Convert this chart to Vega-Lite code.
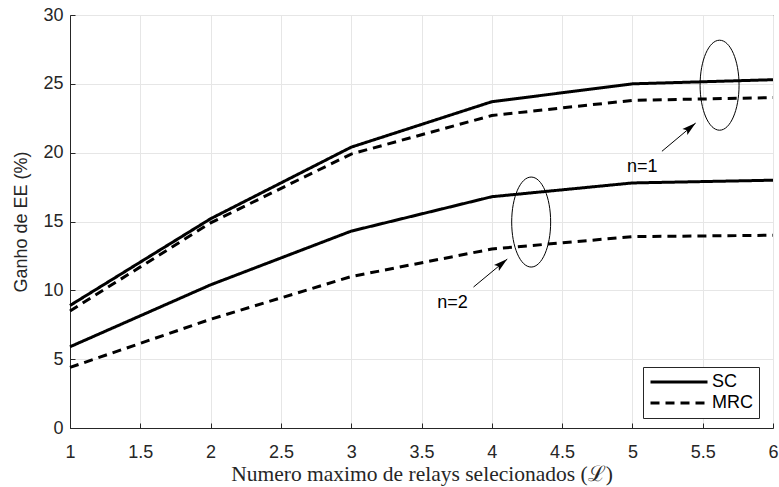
{
  "$schema": "https://vega.github.io/schema/vega-lite/v6.json",
  "width": 703,
  "height": 413,
  "autosize": {"type": "none"},
  "padding": {"left": 70, "top": 15, "right": 6, "bottom": 59},
  "background": "white",
  "datasets": {
    "curves": [
      {"x": 1, "y": 8.9, "type": "SC", "n": "n=1"},
      {"x": 2, "y": 15.2, "type": "SC", "n": "n=1"},
      {"x": 3, "y": 20.4, "type": "SC", "n": "n=1"},
      {"x": 4, "y": 23.7, "type": "SC", "n": "n=1"},
      {"x": 5, "y": 25.0, "type": "SC", "n": "n=1"},
      {"x": 6, "y": 25.3, "type": "SC", "n": "n=1"},
      {"x": 1, "y": 8.5, "type": "MRC", "n": "n=1"},
      {"x": 2, "y": 14.9, "type": "MRC", "n": "n=1"},
      {"x": 3, "y": 19.9, "type": "MRC", "n": "n=1"},
      {"x": 4, "y": 22.7, "type": "MRC", "n": "n=1"},
      {"x": 5, "y": 23.8, "type": "MRC", "n": "n=1"},
      {"x": 6, "y": 24.0, "type": "MRC", "n": "n=1"},
      {"x": 1, "y": 5.9, "type": "SC", "n": "n=2"},
      {"x": 2, "y": 10.4, "type": "SC", "n": "n=2"},
      {"x": 3, "y": 14.3, "type": "SC", "n": "n=2"},
      {"x": 4, "y": 16.8, "type": "SC", "n": "n=2"},
      {"x": 5, "y": 17.8, "type": "SC", "n": "n=2"},
      {"x": 6, "y": 18.0, "type": "SC", "n": "n=2"},
      {"x": 1, "y": 4.4, "type": "MRC", "n": "n=2"},
      {"x": 2, "y": 7.9, "type": "MRC", "n": "n=2"},
      {"x": 3, "y": 11.0, "type": "MRC", "n": "n=2"},
      {"x": 4, "y": 13.0, "type": "MRC", "n": "n=2"},
      {"x": 5, "y": 13.9, "type": "MRC", "n": "n=2"},
      {"x": 6, "y": 14.0, "type": "MRC", "n": "n=2"}
    ],
    "ellipses": [
      {"x": 5.62, "y": 24.9},
      {"x": 4.28, "y": 14.96}
    ],
    "arrows": [
      {"x": 5.21, "y": 20.1, "x2": 5.45, "y2": 22.15, "label": "n=1", "lx": 5.07, "ly": 18.95},
      {"x": 3.87, "y": 10.24, "x2": 4.11, "y2": 12.27, "label": "n=2", "lx": 3.72, "ly": 9.08}
    ]
  },
  "config": {
    "view": {"stroke": "#262626", "strokeWidth": 1},
    "font": "Liberation Sans",
    "axis": {
      "domainColor": "#262626",
      "tickColor": "#262626",
      "gridColor": "#e6e6e6",
      "gridWidth": 1,
      "labelColor": "#262626",
      "labelFontSize": 18,
      "labelFont": "Liberation Sans",
      "titleColor": "#262626",
      "titleFontWeight": "normal"
    }
  },
  "layer": [
    {
      "data": {"name": "curves"},
      "mark": {"type": "line", "strokeWidth": 3, "color": "black", "strokeCap": "butt"},
      "encoding": {
        "x": {
          "field": "x", "type": "quantitative",
          "scale": {"domain": [1, 6], "nice": false, "zero": false},
          "axis": {
            "values": [1, 1.5, 2, 2.5, 3, 3.5, 4, 4.5, 5, 5.5, 6],
            "format": "~g",
            "tickSize": -5,
            "labelPadding": 20,
            "labelFlush": false,
            "title": "Numero maximo de relays selecionados (ℒ)",
            "titleFont": "Liberation Serif",
            "titleFontSize": 21.5,
            "titlePadding": 2
          }
        },
        "y": {
          "field": "y", "type": "quantitative",
          "scale": {"domain": [0, 30], "nice": false},
          "axis": {
            "values": [0, 5, 10, 15, 20, 25, 30],
            "tickSize": -5,
            "labelPadding": 12,
            "title": "Ganho de EE (%)",
            "titleFont": "Liberation Sans",
            "titleFontSize": 18,
            "titlePadding": 12
          }
        },
        "strokeDash": {
          "field": "type", "type": "nominal",
          "scale": {"domain": ["SC", "MRC"], "range": [[1, 0], [9, 6]]},
          "legend": {
            "title": null,
            "orient": "none",
            "legendX": 573,
            "legendY": 352,
            "direction": "vertical",
            "symbolType": "M -1,0 L 6.6,0",
            "symbolSize": 225,
            "symbolStrokeWidth": 3,
            "symbolStrokeColor": "black",
            "labelFontSize": 18,
            "labelFont": "Liberation Sans",
            "labelColor": "black",
            "labelExpr": "datum.label + '\u00a0\u00a0\u00a0'",
            "rowPadding": 3,
            "padding": 6,
            "strokeColor": "#262626",
            "fillColor": "white",
            "labelOffset": 45
          }
        },
        "detail": {"field": "n"}
      }
    },
    {
      "data": {"name": "ellipses"},
      "mark": {
        "type": "point",
        "shape": "M 0.433,0 C 0.433,0.5523 0.239,1 0,1 C -0.239,1 -0.433,0.5523 -0.433,0 C -0.433,-0.5523 -0.239,-1 0,-1 C 0.239,-1 0.433,-0.5523 0.433,0 Z",
        "size": 8100,
        "filled": false,
        "stroke": "black",
        "strokeWidth": 1,
        "opacity": 1
      },
      "encoding": {
        "x": {"field": "x", "type": "quantitative"},
        "y": {"field": "y", "type": "quantitative"}
      }
    },
    {
      "data": {"name": "arrows"},
      "mark": {"type": "rule", "color": "black", "strokeWidth": 1},
      "encoding": {
        "x": {"field": "x", "type": "quantitative"},
        "y": {"field": "y", "type": "quantitative"},
        "x2": {"field": "x2"},
        "y2": {"field": "y2"}
      }
    },
    {
      "data": {"name": "arrows"},
      "mark": {
        "type": "point",
        "shape": "M 0,0 L 0.55,2 L 0,1.6 L -0.55,2 Z",
        "size": 196,
        "filled": true,
        "color": "black",
        "opacity": 1,
        "angle": 50.5
      },
      "encoding": {
        "x": {"field": "x2", "type": "quantitative"},
        "y": {"field": "y2", "type": "quantitative"}
      }
    },
    {
      "data": {"name": "arrows"},
      "mark": {"type": "text", "fontSize": 18, "font": "Liberation Sans", "color": "black"},
      "encoding": {
        "x": {"field": "lx", "type": "quantitative"},
        "y": {"field": "ly", "type": "quantitative"},
        "text": {"field": "label"}
      }
    }
  ]
}
